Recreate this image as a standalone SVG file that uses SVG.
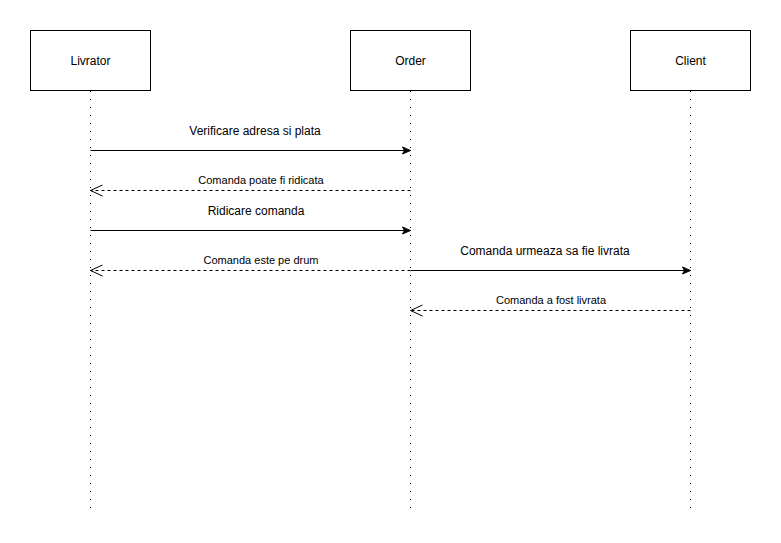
<svg xmlns="http://www.w3.org/2000/svg" width="781" height="543" viewBox="0 0 781 543">
  <style>
    .box { fill: #ffffff; stroke: #000000; stroke-width: 1; }
    .life { stroke: #000000; stroke-width: 1; stroke-dasharray: 1 7; fill: none; }
    .msg { stroke: #000000; stroke-width: 1; fill: none; }
    .ret { stroke: #000000; stroke-width: 1; fill: none; stroke-dasharray: 3 3; }
    .t { font-family: "Liberation Sans", Arial, sans-serif; fill: #000000; text-anchor: middle; }
    .t12 { font-size: 12px; }
    .t11 { font-size: 11px; }
  </style>
  <defs>
    <marker id="solid" markerWidth="10" markerHeight="10" refX="9" refY="5" orient="auto" markerUnits="userSpaceOnUse">
      <path d="M1,1.5 L9,5 L1,8.5 L3,5 Z" fill="#000000" stroke="#000000" stroke-width="1"/>
    </marker>
    <marker id="open" markerWidth="14" markerHeight="14" refX="13" refY="7" orient="auto" markerUnits="userSpaceOnUse">
      <path d="M1,1.5 L13,7 L1,12.5" fill="none" stroke="#000000" stroke-width="1"/>
    </marker>
  </defs>
  <rect width="781" height="543" fill="#ffffff"/>

  <g id="livrator">
    <rect class="box" x="30.5" y="30.5" width="120" height="60"/>
    <text class="t t12" x="90.5" y="65">Livrator</text>
    <line class="life" x1="90.5" y1="91" x2="90.5" y2="512"/>
  </g>
  <g id="order">
    <rect class="box" x="350.5" y="30.5" width="120" height="60"/>
    <text class="t t12" x="410.5" y="65">Order</text>
    <line class="life" x1="410.5" y1="91" x2="410.5" y2="512"/>
  </g>
  <g id="client">
    <rect class="box" x="630.5" y="30.5" width="120" height="60"/>
    <text class="t t12" x="690.5" y="65">Client</text>
    <line class="life" x1="690.5" y1="91" x2="690.5" y2="512"/>
  </g>

  <g id="connectors">
    <line class="msg" x1="90.5" y1="150.5" x2="410.5" y2="150.5" marker-end="url(#solid)"/>
    <text class="t t12" x="255" y="135">Verificare adresa si plata</text>

    <line class="ret" x1="410.5" y1="190.5" x2="90.5" y2="190.5" marker-end="url(#open)"/>
    <text class="t t11" x="261" y="184">Comanda poate fi ridicata</text>

    <line class="msg" x1="90.5" y1="230.5" x2="410.5" y2="230.5" marker-end="url(#solid)"/>
    <text class="t t12" x="256" y="215">Ridicare comanda</text>

    <line class="ret" x1="410.5" y1="270.5" x2="90.5" y2="270.5" marker-end="url(#open)"/>
    <text class="t t11" x="261" y="264">Comanda este pe drum</text>

    <line class="msg" x1="410.5" y1="270.5" x2="690.5" y2="270.5" marker-end="url(#solid)"/>
    <text class="t t12" x="545" y="255">Comanda urmeaza sa fie livrata</text>

    <line class="ret" x1="690.5" y1="310.5" x2="410.5" y2="310.5" marker-end="url(#open)"/>
    <text class="t t11" x="551" y="304">Comanda a fost livrata</text>
  </g>
</svg>
